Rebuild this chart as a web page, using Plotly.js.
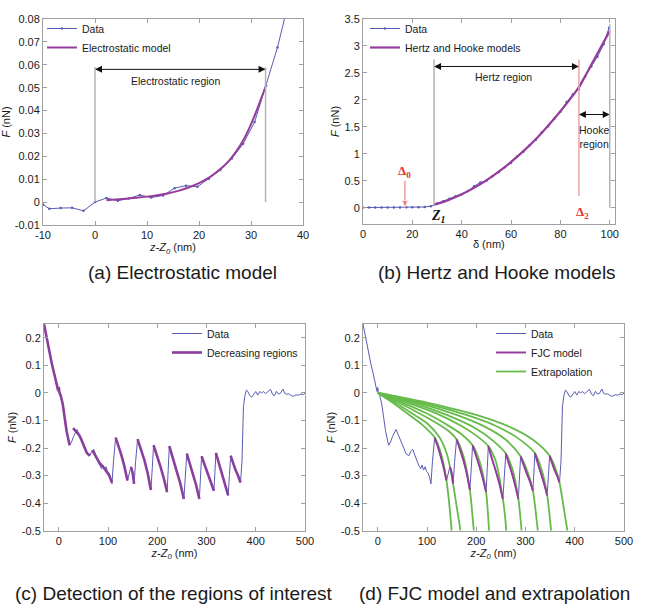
<!DOCTYPE html>
<html>
<head>
<meta charset="utf-8">
<script src="https://cdn.plot.ly/plotly-3.0.1.min.js"></script>
<style>html,body{margin:0;padding:0;background:#fff;}#chart{width:656px;height:608px;}</style>
</head>
<body>
<div id="chart"></div>
<script>
// ---------------- Panel (a): Electrostatic model ----------------
const aDataX = [-10,-8.8,-6.6,-4.4,-2.2,0,2.2,4.4,6.5,8.6,10.8,13.1,15.3,17.5,19.7,21.9,24.1,26.3,28.5,30.7,32.9,35.1,37.3];
const aDataY = [-0.0010,-0.0029,-0.0026,-0.0025,-0.0038,0,0.0018,0.0006,0.0016,0.0031,0.0020,0.0029,0.0061,0.0072,0.0067,0.0102,0.0140,0.0190,0.0255,0.0350,0.0510,0.0676,0.0880];
const aModelX = [2.2,4,6,8,10,12,14,16,18,20,22,24,26,28,30,32,32.8];
const aModelY = [0.0008,0.0011,0.0015,0.0019,0.0024,0.0030,0.0038,0.0049,0.0064,0.0083,0.0108,0.0142,0.0187,0.0250,0.0340,0.0455,0.0505];
const aRegion = [0, 32.8];          // electrostatic region bounds (nm)
const aRegionTop = 0.059, aArrowY = 0.058;
const aXTicks = [-10,0,10,20,30,40];
const aXTickText = ['-10','0','10','20','30','40'];
const aYTicks = [-0.01,0,0.01,0.02,0.03,0.04,0.05,0.06,0.07,0.08];
const aYTickText = ['-0.01','0','0.01','0.02','0.03','0.04','0.05','0.06','0.07','0.08'];

// ---------------- Panel (b): Hertz and Hooke models ----------------
const bDataX = [0,2.5,5,7.5,10,12.5,15,17.5,20,22.5,25,27.5,30,32.5,35,37.5,40,42.5,45,47.5,50,52.5,55,57.5,60,62.5,65,67.5,70,72.5,75,77.5,80,82.5,85,87.5,90,92.5,95,97.5,99.7];
const bDataY = [0.005,0.006,0.004,0.007,0.006,0.008,0.007,0.009,0.010,0.012,0.015,0.030,0.080,0.120,0.170,0.215,0.250,0.310,0.400,0.470,0.500,0.585,0.660,0.750,0.830,0.950,1.040,1.160,1.260,1.400,1.510,1.650,1.780,1.960,2.100,2.200,2.430,2.620,2.800,3.030,3.340];
const bModelX = [28.8,32,35,40,45,50,55,60,65,70,75,80,85,87.5,90,95,100];
const bModelY = [0.06,0.10,0.15,0.25,0.37,0.51,0.67,0.85,1.05,1.27,1.52,1.79,2.08,2.24,2.44,2.86,3.28];
const bZ1 = 28.8, bDelta2 = 87.5, bEnd = 100, bDelta0 = 17;
const bHertzArrowY = 2.62, bHookeArrowY = 1.73, bDelta0Arrow = [0.5, 0.01];
const bXTicks = [0,20,40,60,80,100];
const bYTicks = [0,0.5,1,1.5,2,2.5,3,3.5];
const bYTickText = ['0','0.5','1','1.5','2','2.5','3','3.5'];

// ---------------- Panels (c) and (d): retraction curve ----------------
const cdX = [-30,-26,-22,-18,-14,-10,-6,-3,-1.5,0,1.5,4,8,12,16,22,26,30,34,37,41,45,49,53,57,60,63,67,71,75,79,83,87,90,93,96,99,102,105,108,
  111,115.5,121,127,133,139.5,143,146.5,150,153,156,160,167,174,181,187,190,192.5,200,207,214,220,222.5,224.5,232,240,247,254,257,260,
  266,273,279,285.5,288,290,296,302,309,315,317,319,325,331,338,344,346.5,349,354,359,364,369,372,375,378,381,384,388,392,396,400,404,
  408,412,416,420,425,430,434,438,442,446,450,455,459,463,467,472,477,482,487,492,497,500];
const cdY = [0.250,0.210,0.175,0.140,0.105,0.075,0.045,0.022,0.005,0.020,0.000,-0.010,-0.040,-0.090,-0.140,-0.190,-0.178,-0.158,-0.140,-0.133,-0.150,-0.165,-0.180,-0.200,-0.220,-0.225,-0.228,-0.212,-0.205,-0.225,-0.245,-0.262,-0.275,-0.262,-0.280,-0.268,-0.285,-0.290,-0.305,-0.330,
  -0.250,-0.162,-0.190,-0.225,-0.265,-0.318,-0.290,-0.268,-0.290,-0.330,-0.250,-0.168,-0.205,-0.245,-0.295,-0.352,-0.270,-0.190,-0.230,-0.270,-0.315,-0.360,-0.280,-0.193,-0.240,-0.285,-0.330,-0.385,-0.300,-0.220,
  -0.255,-0.295,-0.335,-0.385,-0.300,-0.230,-0.260,-0.290,-0.320,-0.355,-0.290,-0.218,-0.255,-0.290,-0.330,-0.372,-0.300,-0.228,-0.255,-0.280,-0.300,-0.325,-0.250,-0.050,-0.010,0.010,0.005,-0.010,-0.015,-0.005,0.005,-0.008,
  0.005,0.000,0.005,-0.003,0.005,0.013,-0.005,-0.010,0.006,-0.004,-0.002,0.014,-0.002,-0.005,-0.003,-0.010,-0.012,-0.007,-0.008,-0.004,-0.006,0.000];

// (c) decreasing regions, one array pair per region
const cRegX = [
  [-30,-22,-14,-6,-3,-1.5,0,1.5,4,8,12,16,22],
  [29,34,37,41,45,49,53,57,63],
  [68,75,83,90,96,102,108],
  [115.5,121,127,133,139.5],
  [146.5,150,153],
  [160,167,174,181,187],
  [192.5,200,207,214,220],
  [224.5,232,240,247,254],
  [260,266,273,279,285.5],
  [290,296,302,309,315],
  [319,325,331,338,344],
  [349,354,359,364,369]
];
const cRegY = [
  [0.250,0.175,0.105,0.045,0.025,0.010,0.022,0.000,-0.010,-0.040,-0.090,-0.140,-0.190],
  [-0.128,-0.138,-0.140,-0.152,-0.166,-0.182,-0.200,-0.218,-0.228],
  [-0.208,-0.228,-0.255,-0.268,-0.282,-0.298,-0.325],
  [-0.162,-0.190,-0.225,-0.265,-0.318],
  [-0.268,-0.290,-0.330],
  [-0.168,-0.205,-0.245,-0.295,-0.352],
  [-0.190,-0.230,-0.270,-0.315,-0.360],
  [-0.193,-0.240,-0.285,-0.330,-0.385],
  [-0.220,-0.255,-0.295,-0.335,-0.385],
  [-0.230,-0.260,-0.290,-0.320,-0.355],
  [-0.218,-0.255,-0.290,-0.330,-0.372],
  [-0.228,-0.255,-0.280,-0.300,-0.325]
];
// (d) FJC model fits (the sawtooth regions)
const dFjcX = cRegX.slice(3);
const dFjcY = cRegY.slice(3);
// (d) extrapolated FJC curves, one array pair per curve
const dExtX = [
  [0,30,60,90,115.5,130,139.5,145,150],
  [0,35,70,100,125,140,146.5,153,160,168],
  [0,40,80,120,145,160,175,187,191,195],
  [0,50,100,140,170,192.5,207,220,223,226],
  [0,60,120,170,200,224.5,240,254,258,261],
  [0,70,140,200,235,260,274,285.5,289,292],
  [0,80,160,220,260,290,304,315,320,325],
  [0,90,180,240,285,319,333,344,348,352],
  [0,100,200,270,315,349,360,369,377,385]
];
const dExtY = [
  [0,-0.035,-0.075,-0.115,-0.162,-0.230,-0.318,-0.400,-0.500],
  [0,-0.035,-0.075,-0.110,-0.160,-0.220,-0.268,-0.330,-0.410,-0.500],
  [0,-0.033,-0.070,-0.110,-0.140,-0.168,-0.235,-0.352,-0.420,-0.500],
  [0,-0.035,-0.075,-0.115,-0.150,-0.190,-0.250,-0.360,-0.420,-0.500],
  [0,-0.035,-0.075,-0.120,-0.155,-0.193,-0.250,-0.385,-0.440,-0.500],
  [0,-0.035,-0.080,-0.130,-0.175,-0.220,-0.280,-0.385,-0.440,-0.500],
  [0,-0.035,-0.080,-0.125,-0.170,-0.230,-0.285,-0.355,-0.420,-0.500],
  [0,-0.035,-0.080,-0.120,-0.165,-0.218,-0.280,-0.372,-0.430,-0.500],
  [0,-0.035,-0.080,-0.125,-0.170,-0.228,-0.270,-0.325,-0.410,-0.500]
];
const cdXTicks = [0,100,200,300,400,500];
const cdYTicks = [-0.5,-0.4,-0.3,-0.2,-0.1,0,0.1,0.2];
const cdYTickText = ['-0.5','-0.4','-0.3','-0.2','-0.1','0','0.1','0.2'];

// ---------------- styling ----------------
const FONT = 'Liberation Sans, Arial, Helvetica, sans-serif';
const SERIF = 'Liberation Serif, Times New Roman, serif';
const BLUE = '#5a5cb2', PURPLE = '#953d9c', GREEN = '#66bb4a', RED = '#e2352c', PINK = '#f0a4a4', GRAY = '#b4b4b4';
const W = 656, H = 608;
const px = v => v / W, py = v => 1 - v / H;

function joinSegs(xs, ys) {
  const X = [], Y = [];
  xs.forEach((seg, i) => { if (i) { X.push(null); Y.push(null); } X.push(...seg); Y.push(...ys[i]); });
  return {X, Y};
}
const cReg = joinSegs(cRegX, cRegY);
const dFjc = joinSegs(dFjcX, dFjcY);
const dExt = joinSegs(dExtX, dExtY);

// double-headed horizontal arrow drawn as a line with arrow markers at its tips
function hArrow(xa, ya, x0, x1, y) {
  return {x: [x0, x1], y: [y, y], xaxis: xa, yaxis: ya, mode: 'lines+markers', showlegend: false, hoverinfo: 'skip',
    line: {color: '#111', width: 1}, marker: {symbol: ['arrow-left', 'arrow-right'], size: 7, color: '#111'}};
}

const traces = [
  {x: aDataX, y: aDataY, xaxis: 'x', yaxis: 'y', name: 'Data', legend: 'legend', mode: 'lines+markers',
   line: {color: BLUE, width: 1}, marker: {size: 2.5, color: BLUE}},
  {x: aModelX, y: aModelY, xaxis: 'x', yaxis: 'y', name: 'Electrostatic model', legend: 'legend', mode: 'lines',
   line: {color: PURPLE, width: 2, shape: 'spline'}},
  {x: bDataX, y: bDataY, xaxis: 'x2', yaxis: 'y2', name: 'Data', legend: 'legend2', mode: 'lines+markers',
   line: {color: BLUE, width: 1}, marker: {size: 2.5, color: BLUE}},
  {x: bModelX, y: bModelY, xaxis: 'x2', yaxis: 'y2', name: 'Hertz and Hooke models', legend: 'legend2', mode: 'lines',
   line: {color: PURPLE, width: 2.2, shape: 'spline'}},
  {x: cdX, y: cdY, xaxis: 'x3', yaxis: 'y3', name: 'Data', legend: 'legend3', mode: 'lines',
   line: {color: BLUE, width: 1}},
  {x: cReg.X, y: cReg.Y, xaxis: 'x3', yaxis: 'y3', name: 'Decreasing regions', legend: 'legend3', mode: 'lines',
   connectgaps: false, line: {color: '#8a3e9e', width: 2.6}},
  {x: cdX, y: cdY, xaxis: 'x4', yaxis: 'y4', name: 'Data', legend: 'legend4', legendrank: 1, mode: 'lines',
   line: {color: BLUE, width: 1}},
  {x: dExt.X, y: dExt.Y, xaxis: 'x4', yaxis: 'y4', name: 'Extrapolation', legend: 'legend4', legendrank: 3, mode: 'lines',
   connectgaps: false, line: {color: GREEN, width: 1.8, shape: 'spline', smoothing: 0.8}},
  {x: dFjc.X, y: dFjc.Y, xaxis: 'x4', yaxis: 'y4', name: 'FJC model', legend: 'legend4', legendrank: 2, mode: 'lines',
   connectgaps: false, line: {color: PURPLE, width: 2, shape: 'spline', smoothing: 0.8}},
  hArrow('x', 'y', aRegion[0], aRegion[1], aArrowY),
  hArrow('x2', 'y2', bZ1, bDelta2, bHertzArrowY),
  hArrow('x2', 'y2', bDelta2, bEnd, bHookeArrowY),
  {x: [bDelta0, bDelta0], y: bDelta0Arrow, xaxis: 'x2', yaxis: 'y2', mode: 'lines+markers', showlegend: false, hoverinfo: 'skip',
   line: {color: '#e86a6a', width: 1}, marker: {symbol: ['circle', 'arrow-down'], size: [0, 7], color: '#e86a6a'}}
];

function axis(extra) {
  return Object.assign({
    showline: true, linecolor: '#a0a0a0', linewidth: 1, mirror: 'ticks', ticks: 'inside', ticklen: 4,
    tickcolor: '#a0a0a0', showgrid: false, zeroline: false, fixedrange: true,
    tickfont: {family: FONT, size: 11, color: '#1a1a1a'}
  }, extra);
}
const titleFont = {family: FONT, size: 11, color: '#1a1a1a'};
const zTitle = {text: '<i>z-Z</i><sub><i>0</i></sub> (nm)', font: titleFont, standoff: 1};
const fTitle = {text: '<i>F</i> (nN)', font: titleFont, standoff: 2};

function legendAt(xp, yp) {
  return {x: px(xp), y: py(yp), xanchor: 'left', yanchor: 'top', bgcolor: 'rgba(0,0,0,0)', borderwidth: 0,
    font: {family: FONT, size: 10.5, color: '#1a1a1a'}, tracegroupgap: 0, itemwidth: 30};
}
function txt(xr, yr, x, y, text, size, color, family, extra) {
  return Object.assign({xref: xr, yref: yr, x: x, y: y, text: text, showarrow: false,
    font: {family: family || FONT, size: size, color: color || '#1a1a1a'}}, extra || {});
}

const layout = {
  width: W, height: H, margin: {l: 0, r: 0, t: 0, b: 0}, paper_bgcolor: '#fff', plot_bgcolor: '#fff',
  font: {family: FONT},
  xaxis: axis({domain: [px(43), px(303)], range: [-10, 40], anchor: 'y', tickvals: aXTicks, ticktext: aXTickText, title: zTitle}),
  yaxis: axis({domain: [py(225), py(19)], range: [-0.01, 0.08], anchor: 'x', tickvals: aYTicks, ticktext: aYTickText, title: fTitle}),
  xaxis2: axis({domain: [px(363), px(614.7)], range: [0, 102], anchor: 'y2', tickvals: bXTicks,
    title: {text: 'δ (nm)', font: titleFont, standoff: 1}}),
  yaxis2: axis({domain: [py(224), py(19)], range: [-0.3, 3.5], anchor: 'x2', tickvals: bYTicks, ticktext: bYTickText, title: fTitle}),
  xaxis3: axis({domain: [px(44), px(305)], range: [-30, 500], anchor: 'y3', tickvals: cdXTicks, title: zTitle}),
  yaxis3: axis({domain: [py(530.7), py(324)], range: [-0.5, 0.25], anchor: 'x3', tickvals: cdYTicks, ticktext: cdYTickText, title: fTitle}),
  xaxis4: axis({domain: [px(363), px(624)], range: [-30, 500], anchor: 'y4', tickvals: cdXTicks, title: zTitle}),
  yaxis4: axis({domain: [py(530.7), py(324)], range: [-0.5, 0.25], anchor: 'x4', tickvals: cdYTicks, ticktext: cdYTickText, title: fTitle}),
  legend: legendAt(42, 14),
  legend2: legendAt(365, 14),
  legend3: legendAt(167, 319),
  legend4: legendAt(491, 319),
  shapes: [
    {type: 'line', xref: 'x', yref: 'y', x0: aRegion[0], x1: aRegion[0], y0: 0, y1: aRegionTop, line: {color: GRAY, width: 1.5}},
    {type: 'line', xref: 'x', yref: 'y', x0: aRegion[1], x1: aRegion[1], y0: 0, y1: aRegionTop, line: {color: GRAY, width: 1.5}},
    {type: 'line', xref: 'x2', yref: 'y2', x0: bZ1, x1: bZ1, y0: 0.06, y1: 2.75, line: {color: GRAY, width: 1.5}},
    {type: 'line', xref: 'x2', yref: 'y2', x0: bDelta2, x1: bDelta2, y0: 0.22, y1: 2.75, line: {color: PINK, width: 1.5}},
    {type: 'line', xref: 'x2', yref: 'y2', x0: bEnd, x1: bEnd, y0: 0, y1: 3.4, line: {color: GRAY, width: 1.5}}
  ],
  annotations: [
    txt('x', 'y', 15.5, 0.0528, 'Electrostatic region', 10.5),
    txt('x2', 'y2', 56.8, 2.43, 'Hertz region', 10.5),
    txt('x2', 'y2', 94, 1.31, 'Hooke<br>region', 10.5),
    txt('x2', 'y2', bDelta0, 0.68, '<b>Δ<sub>0</sub></b>', 13, RED, SERIF),
    txt('x2', 'y2', 30.4, -0.17, '<b><i>Z<sub>1</sub></i></b>', 14, '#111', SERIF),
    txt('x2', 'y2', 89, -0.08, '<b>Δ<sub>2</sub></b>', 13, RED, SERIF),
    txt('paper', 'paper', px(182), py(272), '(a) Electrostatic model', 19, '#1a1a1a', FONT, {xanchor: 'center', yanchor: 'middle'}),
    txt('paper', 'paper', px(497), py(272), '(b) Hertz and Hooke models', 19, '#1a1a1a', FONT, {xanchor: 'center', yanchor: 'middle'}),
    txt('paper', 'paper', px(174), py(593), '(c) Detection of the regions of interest', 19, '#1a1a1a', FONT, {xanchor: 'center', yanchor: 'middle'}),
    txt('paper', 'paper', px(495), py(593), '(d) FJC model and extrapolation', 19, '#1a1a1a', FONT, {xanchor: 'center', yanchor: 'middle'})
  ]
};

Plotly.newPlot('chart', traces, layout, {staticPlot: true, displayModeBar: false});
</script>
</body>
</html>
